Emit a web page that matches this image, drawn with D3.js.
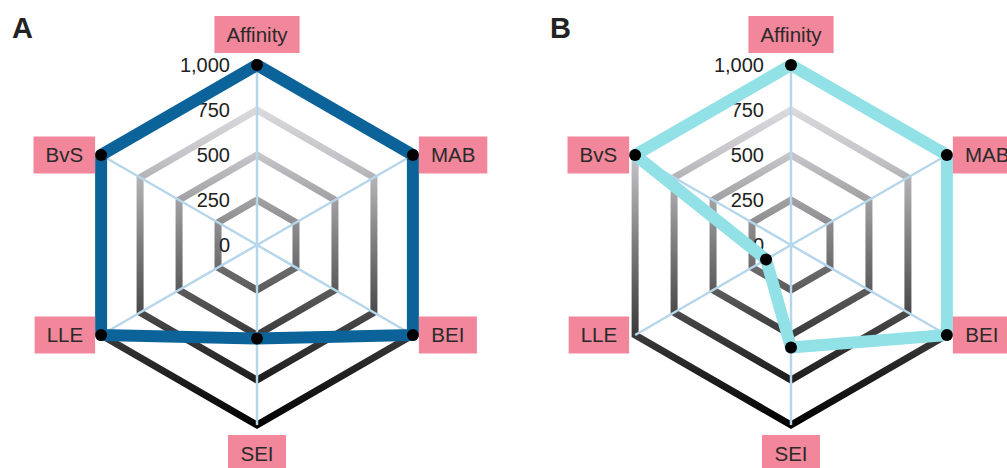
<!DOCTYPE html>
<html>
<head>
<meta charset="utf-8">
<script src="https://cdn.jsdelivr.net/npm/d3@7"></script>
<style>
  html, body { margin: 0; padding: 0; background: #fff; }
  svg { display: block; font-family: "Liberation Sans", Arial, sans-serif; }
</style>
</head>
<body>
<div id="chart"></div>
<script>
// axes go clockwise starting at 12 o'clock
const axes = ['Affinity', 'MAB', 'BEI', 'SEI', 'LLE', 'BvS']
const ticks = [0, 250, 500, 750, 1000]
const valuesA = [1000, 1000, 1000, 520, 1000, 1000]
const valuesB = [1000, 1000, 1000, 570, 160, 1000]

const width = 1007, height = 468
const radius = 180

const svg = d3.select('#chart').append('svg')
  .attr('width', width)
  .attr('height', height)

// ring gradient, light at the top, black at the bottom
const defs = svg.append('defs')
const grad = defs.append('linearGradient')
  .attr('id', 'ringGrad')
  .attr('gradientUnits', 'userSpaceOnUse')
  .attr('x1', 0).attr('x2', 0)
  .attr('y1', -radius).attr('y2', radius)
const stops = [[0, '#ececef'], [0.25, '#c6c6ca'], [0.5, '#7c7c7e'], [0.75, '#3a3a3a'], [1, '#000']]
grad.selectAll('stop')
  .data(stops)
  .enter().append('stop')
  .attr('offset', d => d[0])
  .attr('stop-color', d => d[1])

const r = d3.scaleLinear().domain([0, 1000]).range([0, radius])
const angle = d3.scalePoint().domain(axes).range([0, 2 * Math.PI * 5 / 6])

const ringLine = d3.lineRadial()
  .angle(d => angle(d))
  .curve(d3.curveLinearClosed)

function radar(cx, cy, letterX, letter, values, color) {
  svg.append('text')
    .attr('x', letterX)
    .attr('y', 38)
    .style('font-size', '29px')
    .style('font-weight', 'bold')
    .style('fill', '#222')
    .text(letter)

  const g = svg.append('g')
    .attr('transform', `translate(${cx}, ${cy})`)

  // rings
  g.selectAll('.ring')
    .data(ticks.slice(1))
    .enter().append('path')
    .attr('class', 'ring')
    .attr('d', t => ringLine.radius(r(t))(axes))
    .style('fill', 'none')
    .style('stroke', 'url(#ringGrad)')
    .style('stroke-width', 7)
    .style('stroke-linejoin', 'miter')

  // spokes
  g.selectAll('.spoke')
    .data(axes)
    .enter().append('line')
    .attr('x1', 0).attr('y1', 0)
    .attr('x2', d => Math.sin(angle(d)) * r(1000))
    .attr('y2', d => -Math.cos(angle(d)) * r(1000))
    .style('stroke', '#b6d6eb')
    .style('stroke-width', 2.5)

  // tick labels
  g.selectAll('.ticklabel')
    .data(ticks)
    .enter().append('text')
    .attr('x', -27)
    .attr('y', t => -r(t))
    .attr('dy', '0.36em')
    .style('text-anchor', 'end')
    .style('font-size', '20px')
    .style('fill', '#222')
    .text(d3.format(','))

  // data polygon
  const pts = axes.map((a, i) => ({axis: a, value: values[i]}))
  g.append('path')
    .datum(pts)
    .attr('d', d3.lineRadial()
      .angle(d => angle(d.axis))
      .radius(d => r(d.value))
      .curve(d3.curveLinearClosed))
    .style('fill', 'none')
    .style('stroke', color)
    .style('stroke-width', 12)
    .style('stroke-linejoin', 'round')

  g.selectAll('.dot')
    .data(pts)
    .enter().append('circle')
    .attr('cx', d => Math.sin(angle(d.axis)) * r(d.value))
    .attr('cy', d => -Math.cos(angle(d.axis)) * r(d.value))
    .attr('r', 6)
    .style('fill', '#000')

  // axis labels in pink boxes
  const lab = g.selectAll('.axislabel')
    .data(axes)
    .enter().append('g')
    .attr('class', 'axislabel')
  lab.append('text')
    .text(d => d)
    .style('font-size', '20.5px')
    .style('fill', '#2a2a2a')
    .style('text-anchor', 'middle')
    .attr('dy', '0.36em')
  lab.each(function(d) {
    const el = d3.select(this)
    const tw = el.select('text').node().getComputedTextLength()
    const w = Math.max(58, tw + 24), h = 37
    const a = angle(d)
    const vx = Math.sin(a) * r(1000), vy = -Math.cos(a) * r(1000)
    let x, y
    if (Math.abs(Math.sin(a)) < 0.01) {
      x = 0
      y = vy < 0 ? vy - 12 - h / 2 : vy + 10 + h / 2
    } else {
      x = vx > 0 ? vx + 6 + w / 2 : vx - 6 - w / 2
      y = vy
    }
    el.attr('transform', `translate(${x}, ${y})`)
    el.insert('rect', 'text')
      .attr('x', -w / 2)
      .attr('y', -h / 2)
      .attr('width', w)
      .attr('height', h)
      .style('fill', '#f2879b')
  })
}

radar(257, 245, 12, 'A', valuesA, '#0b6399')
radar(791, 245, 550, 'B', valuesB, '#92e1e7')
</script>
</body>
</html>
